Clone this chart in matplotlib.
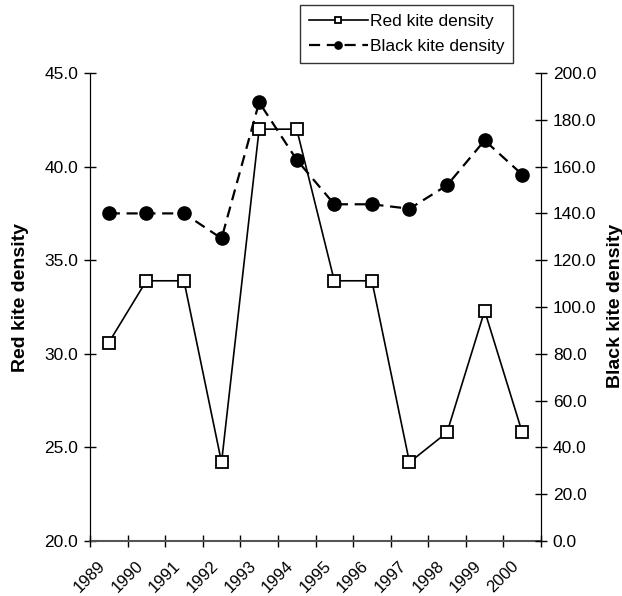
import matplotlib.pyplot as plt
import matplotlib.transforms as mtransforms

plt.rcParams['font.family'] = ['Liberation Sans', 'DejaVu Sans']

years = ["1989", "1990", "1991", "1992", "1993", "1994", "1995", "1996",
         "1997", "1998", "1999", "2000"]
red_kite = [30.6, 33.9, 33.9, 24.2, 42.0, 42.0, 33.9, 33.9, 24.2, 25.8, 32.3, 25.8]
black_kite = [140.0, 140.0, 140.0, 129.3, 187.5, 162.9, 143.9, 143.9, 142.0, 152.0, 171.2, 156.6]

fig = plt.figure(figsize=(6.22, 5.96), dpi=100)
ax = fig.add_axes([0.1447, 0.0923, 0.7251, 0.7852])
ax2 = ax.twinx()

xs = [i + 0.5 for i in range(len(years))]

l1, = ax.plot(xs, red_kite, color="black", lw=1.2, marker="s", ms=9,
              mfc="white", mec="black", mew=1.3, zorder=3)
l2, = ax2.plot(xs, black_kite, color="black", lw=1.6, ls=(0, (5, 3)),
               marker="o", ms=9.5, mfc="black", mec="black", zorder=3)

ax.set_xlim(0, len(years))
ax.set_ylim(20, 45)
ax2.set_ylim(0, 200)
ax.set_yticks([20, 25, 30, 35, 40, 45])
ax.set_yticklabels([f"{v:.1f}" for v in [20, 25, 30, 35, 40, 45]])
ax2.set_yticks(range(0, 201, 20))
ax2.set_yticklabels([f"{v:.1f}" for v in range(0, 201, 20)])

# ticks at category boundaries, labels at the left boundary of each category
ax.set_xticks(range(len(years) + 1))
ax.set_xticklabels(years + [""], rotation=45, ha="center", fontsize=12)
offset = mtransforms.ScaledTranslation(-4 / 100, 0, fig.dpi_scale_trans)
for lab in ax.get_xticklabels():
    lab.set_transform(lab.get_transform() + offset)

for a in (ax, ax2):
    a.spines["top"].set_visible(False)
    a.tick_params(direction="inout", length=9, width=1, labelsize=12.5, pad=4)
ax.tick_params(axis="x", pad=8, labelsize=12)
ax.spines["bottom"].set_color("#555555")
ax.spines["bottom"].set_linewidth(1.5)
ax2.spines["bottom"].set_visible(False)

ax.set_ylabel("Red kite density", fontsize=14, fontweight="bold")
ax.yaxis.set_label_coords(21 / 622, 0.5, transform=fig.transFigure)
ax2.set_ylabel("Black kite density", fontsize=14, fontweight="bold", rotation=90)
ax2.yaxis.set_label_coords(615 / 622, 0.5 - 8 / 596, transform=fig.transFigure)
ax2.yaxis.label.set_va("center")
ax.yaxis.label.set_va("center")

leg = fig.legend([l1, l2], ["Red kite density", "Black kite density"],
                 loc="upper left", bbox_to_anchor=(300 / 622, 1 - 5 / 596),
                 fontsize=12.5, frameon=True, fancybox=False, edgecolor="black",
                 handlelength=3.4, handletextpad=0.15, borderpad=0.5,
                 labelspacing=0.6, markerscale=0.55, borderaxespad=0)
leg.get_frame().set_linewidth(1.0)

fig.savefig("out.png", dpi=100)
